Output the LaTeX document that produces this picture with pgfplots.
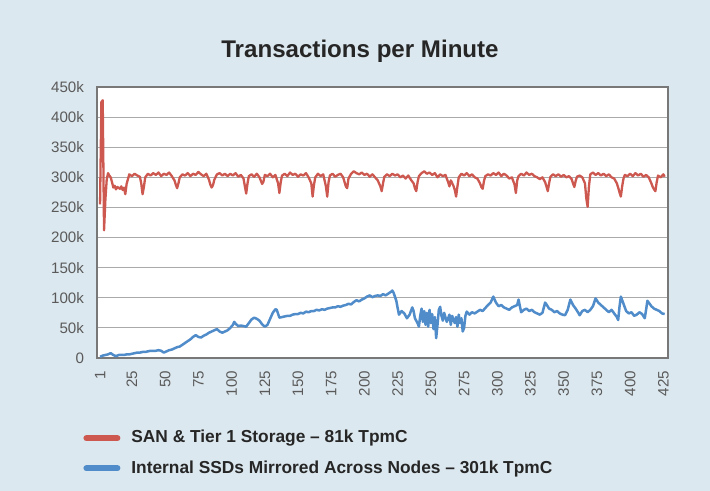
\documentclass[border=0pt]{standalone}
\usepackage{pgfplots}
\pgfplotsset{compat=1.18}
\usepackage{fontspec}
\setmainfont{Liberation Sans}
\definecolor{bgc}{RGB}{220,232,239}
\definecolor{redc}{RGB}{204,88,80}
\definecolor{bluec}{RGB}{80,140,202}
\definecolor{gridc}{RGB}{170,170,170}
\definecolor{framec}{RGB}{120,120,120}
\definecolor{tickc}{RGB}{90,90,90}
\begin{document}
\begin{tikzpicture}
\fill[bgc] (0bp,0bp) rectangle (355bp,245.5bp);
\node[font=\fontsize{12.1}{14}\selectfont\bfseries, text=black!85] at (180bp,220bp) {Transactions per Minute};
\begin{axis}[
  at={(48.5bp,66.5bp)}, anchor=south west,
  scale only axis, width=285.5bp, height=135.5bp,
  xmin=-1.3, xmax=428.5, ymin=0, ymax=450,
  axis background/.style={fill=white},
  axis line style={framec, line width=0.6bp},
  xtick={1,25,50,75,100,125,150,175,200,225,250,275,300,325,350,375,400,425},
  ytick={0,50,100,150,200,250,300,350,400,450},
  yticklabels={0,50k,100k,150k,200k,250k,300k,350k,400k,450k},
  major tick length=0pt,
  ymajorgrids, grid style={gridc, line width=0.6bp},
  /pgf/number format/assume math mode=true,
  tick label style={font=\fontsize{7.6}{9}\selectfont, text=tickc},
  x tick label style={rotate=90, anchor=east},
  xticklabel shift=3bp, yticklabel shift=3bp,
  legend style={at={(-0.0245,-0.251)}, anchor=north west, draw=none, fill=none,
    font=\fontsize{8.7}{10}\selectfont\bfseries, text=black!85,
    row sep=3.3bp, inner sep=0pt,
    /tikz/every odd column/.append style={column sep=3.5bp}},
  legend cell align=left,
  legend image code/.code={\draw[#1, line width=3bp, line cap=round] (1.5bp,0bp) -- (17bp,0bp);},
]
\addplot[redc, line width=1.15bp, line join=round] coordinates {
(1,255)(2,425)(3,428)(4,212)(5,262)(6,296)(7,307)(8,303)(9,300)(10,292)(11,283)(12,286)(13,280)(14,284)(16,281)(17,285)(18,279)(19,283)(20,272)(21,289)(23,305)(25,302)(27,306)(29,303)(31,301)(32,290)(33,272)(34,284)(35,300)(37,306)(39,303)(41,307)(43,304)(45,308)(47,302)(49,306)(51,304)(53,308)(55,302)(57,295)(58,288)(59,282)(60,290)(61,300)(63,305)(65,303)(67,307)(69,302)(71,306)(73,304)(75,309)(77,305)(79,302)(81,306)(83,296)(84,288)(85,283)(86,287)(87,296)(89,305)(91,307)(93,303)(95,306)(97,302)(99,306)(101,303)(103,307)(105,301)(107,304)(109,298)(110,285)(111,273)(112,290)(113,302)(115,305)(117,301)(119,306)(121,300)(123,289)(124,293)(125,304)(127,302)(129,306)(131,300)(133,304)(135,290)(136,274)(137,292)(138,303)(140,306)(142,302)(144,308)(146,304)(148,306)(150,301)(152,305)(154,303)(156,307)(158,300)(160,290)(161,268)(162,287)(163,300)(165,306)(167,302)(169,305)(171,285)(172,268)(173,292)(174,303)(176,306)(178,301)(180,304)(182,306)(184,300)(186,285)(187,282)(188,298)(190,306)(192,310)(194,307)(196,305)(198,308)(200,304)(202,306)(204,301)(206,305)(208,300)(210,295)(212,285)(213,277)(214,290)(215,301)(217,305)(219,302)(221,306)(223,303)(225,305)(227,300)(229,303)(231,298)(233,303)(235,296)(237,290)(238,282)(239,277)(240,292)(241,302)(243,307)(245,310)(247,306)(249,308)(251,304)(253,307)(255,300)(257,305)(259,302)(261,304)(263,292)(264,285)(265,295)(267,286)(268,279)(269,268)(270,285)(271,300)(273,306)(275,303)(277,307)(279,302)(281,305)(283,300)(285,298)(287,290)(288,284)(289,281)(290,294)(291,302)(293,305)(295,303)(297,307)(299,304)(301,308)(303,302)(305,306)(307,303)(309,298)(311,300)(313,288)(314,274)(315,295)(316,302)(318,306)(320,303)(322,308)(324,304)(326,306)(328,302)(330,300)(332,297)(334,300)(336,292)(337,285)(338,277)(339,290)(340,301)(342,305)(344,302)(346,305)(348,301)(350,304)(352,300)(354,302)(356,297)(357,290)(358,284)(359,294)(360,301)(362,303)(364,300)(366,290)(367,265)(368,251)(369,285)(370,305)(372,308)(374,304)(376,307)(378,303)(380,306)(382,302)(384,305)(386,300)(388,298)(390,290)(391,283)(392,275)(393,268)(394,285)(395,298)(396,304)(398,302)(400,306)(402,302)(404,307)(406,303)(408,306)(410,301)(412,304)(414,300)(416,290)(417,284)(418,280)(419,277)(420,292)(421,303)(423,300)(425,305)(426,301)
};
\addlegendentry{SAN \& Tier 1 Storage – 81k TpmC}
\addplot[bluec, line width=1.25bp, line join=round] coordinates {
(1,2)(3,4)(5,5)(7,6)(9,8)(11,5)(13,3)(15,5)(17,5)(19,5)(21,6)(23,6)(25,7)(27,8)(29,9)(31,9)(33,10)(35,10)(37,11)(39,12)(41,12)(43,12)(45,13)(47,12)(49,9)(51,11)(53,13)(55,14)(57,16)(59,18)(61,19)(63,22)(65,25)(67,28)(69,31)(71,35)(73,38)(75,35)(77,34)(79,37)(81,39)(83,42)(85,44)(87,46)(89,48)(91,44)(93,42)(95,44)(97,46)(99,50)(101,55)(102,60)(103,57)(105,53)(107,54)(109,53)(111,52)(113,58)(115,64)(117,67)(119,65)(121,62)(123,56)(125,52)(127,55)(129,65)(131,75)(133,81)(134,80)(136,67)(138,68)(140,69)(142,70)(144,70)(146,72)(148,73)(150,73)(152,75)(154,74)(156,77)(158,76)(160,78)(162,78)(164,80)(166,79)(168,81)(170,80)(172,82)(174,83)(176,84)(178,84)(180,86)(182,85)(184,87)(186,88)(188,90)(190,89)(192,93)(194,96)(196,94)(198,97)(200,99)(202,102)(204,104)(206,101)(208,103)(210,104)(212,103)(214,106)(216,104)(218,107)(220,110)(221,112)(222,108)(224,95)(225,83)(226,72)(228,78)(230,74)(232,66)(234,72)(236,84)(237,78)(238,66)(240,58)(241,52)(242,70)(243,82)(244,60)(245,78)(246,55)(247,75)(248,52)(249,80)(250,58)(251,73)(252,48)(253,68)(254,33)(255,55)(256,80)(257,85)(258,70)(259,62)(260,75)(262,60)(264,72)(265,55)(266,70)(268,58)(269,68)(270,52)(271,72)(272,58)(273,66)(274,44)(275,50)(276,70)(277,77)(279,72)(281,76)(283,74)(285,77)(287,80)(289,78)(291,83)(293,88)(295,92)(297,102)(299,92)(301,86)(303,88)(305,84)(307,82)(309,80)(311,84)(313,86)(315,88)(316,97)(317,86)(318,76)(320,80)(322,82)(324,78)(326,80)(328,76)(330,74)(332,72)(334,75)(336,92)(337,89)(339,82)(341,80)(343,76)(345,78)(347,74)(349,72)(351,71)(353,80)(355,97)(357,88)(359,82)(361,75)(362,71)(364,78)(366,80)(368,76)(370,80)(372,86)(374,99)(376,92)(378,88)(380,84)(382,80)(384,76)(386,80)(388,74)(390,68)(391,63)(392,85)(393,102)(395,90)(397,78)(399,74)(401,76)(403,70)(405,72)(407,76)(409,73)(411,66)(412,80)(413,95)(414,92)(416,86)(418,82)(420,80)(422,78)(424,74)(426,73)
};
\addlegendentry{Internal SSDs Mirrored Across Nodes – 301k TpmC}
\end{axis}
\end{tikzpicture}
\end{document}
